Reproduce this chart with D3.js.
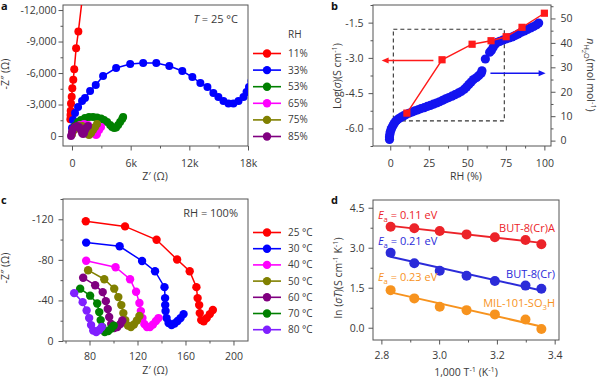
<!DOCTYPE html>
<html>
<head>
<meta charset="utf-8">
<script src="https://cdn.jsdelivr.net/npm/d3@7"></script>
<style>
  body { margin: 0; background: #fff; }
  svg { display: block; font-family: "Open Sans", sans-serif; }
</style>
</head>
<body>
<div id="chart"></div>
<script>
"use strict";

/* === Panel a: Nyquist plots at 25 C for each RH (Z', Z'') === */
let rhLabels = ["11%", "33%", "53%", "65%", "75%", "85%"];
let rhColors = ["#ff0000", "#0000ff", "#008000", "#ff00ff", "#808000", "#800080"];
let nyqRH = [
  [[-170,-1600],[-150,-2000],[-130,-2400],[-100,-3100],[-30,-3750],[30,-4550],[130,-5350],[230,-6350],[420,-8350],[650,-9950],[1100,-13500]],
  [[0,-760],[100,-1520],[310,-2190],[620,-2760],[1030,-3330],[1330,-3620],[1850,-4290],[2430,-4860],[3180,-5710],[4510,-6480],[5950,-6860],[7280,-6950],[8620,-6950],[9950,-6670],[11280,-6190],[12310,-5620],[13130,-5050],[13850,-4670],[14460,-4100],[14970,-3710],[15490,-3330],[16000,-3100],[16510,-3100],[17030,-3330],[17540,-3710],[17850,-4190],[18100,-4670],[18360,-5240]],
  [[0,-190],[100,-570],[310,-950],[620,-1330],[920,-1520],[1330,-1710],[1740,-1810],[2150,-1810],[2560,-1760],[2970,-1670],[3280,-1520],[3590,-1330],[3900,-1050],[4100,-860],[4310,-760],[4510,-810],[4720,-1050],[4920,-1330],[5130,-1620],[5230,-1810]],
  [[0,-190],[200,-570],[510,-860],[820,-1050],[1230,-1140],[1640,-1050],[1950,-760],[2150,-480],[2360,-190],[2460,-100],[2560,-190],[2770,-570],[2970,-860]],
  [[0,-190],[200,-570],[410,-760],[720,-950],[1030,-950],[1330,-760],[1540,-480],[1640,-190],[1740,-100],[1950,-290],[2150,-570],[2360,-860],[2560,-1140]],
  [[-100,0],[0,-380],[100,-670],[310,-860],[510,-950],[720,-860],[920,-570],[1030,-290],[1130,-190],[1230,-290],[1330,-570],[1440,-760],[1640,-950]]
];

/* === Panel b: conductivity and water uptake vs RH === */
let rhCond = [10.8, 33.6, 53.1, 65.4, 75.2, 85.5, 100];
let logSigma = [-5.35, -3.08, -2.42, -2.27, -2.10, -1.70, -1.10];
let rhUptake = [-0.5, -0.5, -0.3, 0, 0.5, 1, 1.8, 2.5, 3.3, 4.3, 5.5, 7, 8.5, 10, 12, 14, 16, 18, 20, 22, 24, 26, 28, 30, 32, 34, 36, 38, 40, 42, 44, 46, 48, 49.5, 51, 52.5, 54, 56, 57.5, 59, 59.5, 61.7, 64.5, 65.6, 66.7, 68, 69.3, 71, 73, 75, 77, 79, 81, 83, 85, 87, 89, 91, 93, 95, 96.3];
let nWater = [0.5, 1.5, 2.5, 3.5, 4.5, 5.3, 6.2, 7, 7.7, 8.4, 9, 9.6, 10.1, 10.6, 11.2, 11.7, 12.2, 12.6, 13.1, 13.5, 14, 14.4, 14.9, 15.4, 15.9, 16.5, 17.1, 17.6, 18.2, 18.8, 19.4, 20.1, 21, 21.9, 23, 24, 25, 25.8, 26.7, 27.6, 28.6, 33.4, 36.2, 36.9, 38.1, 39.3, 40.2, 40.6, 41.1, 41.6, 42, 42.4, 43, 43.6, 44.3, 44.9, 45.5, 46.1, 46.7, 47.4, 48.1];

/* === Panel c: Nyquist plots at RH = 100% for each temperature === */
let tempLabels = ["25 °C", "30 °C", "40 °C", "50 °C", "60 °C", "70 °C", "80 °C"];
let tempColors = ["#ff0000", "#0000ff", "#ff00ff", "#808000", "#800080", "#008000", "#8020ff"];
let nyqTemp = [
  [[76.9,-118],[109.6,-113],[135.9,-99.8],[153.0,-80.3],[163.5,-68.8],[169.1,-53.1],[170.1,-42.3],[171.4,-35.4],[171.9,-27.5],[173.1,-20.6],[175.2,-19.5],[177.7,-22.6],[180.3,-26.5],[182.8,-30.5]],
  [[77.2,-97],[105.1,-93.4],[123.8,-78.9],[134.6,-68.8],[142.5,-53.1],[143.0,-42.3],[143.1,-35.4],[143.4,-29.5],[144.2,-22.6],[145.9,-17.7],[148.4,-15.7],[150.9,-17.2],[153.4,-19.7],[155.9,-22.6],[158.4,-26.5]],
  [[77.2,-79.1],[101.7,-72.7],[113.8,-60.9],[118.8,-48.5],[121.6,-37.4],[122.8,-29.5],[124.1,-22.6],[125.7,-16.7],[127.9,-13.8],[130.4,-13.8],[132.9,-16.2],[135.4,-19.7],[137.5,-22.6]],
  [[78.8,-69.8],[92.3,-60.9],[100.6,-51.6],[104.0,-43.3],[106.5,-35.4],[108.2,-27.5],[109.8,-20.6],[112.0,-15.2],[114.5,-13.8],[117.0,-16.2],[119.5,-20.2],[121.6,-24.6]],
  [[74.7,-62.4],[84.7,-55],[91.0,-48.2],[93.6,-39.3],[95.2,-31.5],[96.4,-23.6],[98.1,-16.7],[100.6,-12.8],[103.2,-13.8],[105.7,-16.7],[107.3,-20.2]],
  [[72.2,-51.6],[80.5,-44.7],[86.4,-36.9],[88.1,-28.5],[89.3,-20.6],[90.6,-13.8],[92.7,-8.8],[95.6,-9.8],[98.1,-12.3],[100.2,-15.2]],
  [[67.2,-47.2],[74.3,-38.3],[77.6,-30],[79.7,-22.6],[81.3,-15.7],[83.1,-10.3],[85.6,-8.8],[88.1,-10.8],[90.2,-13.8]]
];

/* === Panel d: Arrhenius plots === */
let invT = [2.832, 2.914, 3.002, 3.095, 3.193, 3.299, 3.354];
let materials = ["BUT-8(Cr)A", "BUT-8(Cr)", "MIL-101-SO3H"];
let activation = ["0.11", "0.21", "0.23"];
let matColors = ["#ec2329", "#2b2bd9", "#f7931e"];
let lnSigmaT = [
  [3.79, 3.73, 3.63, 3.50, 3.39, 3.29, 3.13],
  [2.81, 2.42, 2.14, 1.95, 1.75, 1.58, 1.46],
  [1.41, 1.10, 0.79, 0.66, 0.50, 0.31, -0.05]
];

/* === SVG === */
let ink = "#3a3a3a";
let frameColor = "#555";

let svg = d3.select("#chart").append("svg")
  .attr("width", 600)
  .attr("height", 377);

svg.append("rect").attr("width", 600).attr("height", 377).attr("fill", "#fff");

let defs = svg.append("defs");

function frame(box, id) {
  defs.append("clipPath").attr("id", id)
    .append("rect")
    .attr("x", box.x0).attr("y", box.y0)
    .attr("width", box.x1 - box.x0).attr("height", box.y1 - box.y0);
  svg.append("rect")
    .attr("x", box.x0).attr("y", box.y0)
    .attr("width", box.x1 - box.x0).attr("height", box.y1 - box.y0)
    .attr("fill", "none").attr("stroke", frameColor).attr("stroke-width", 1);
}

// major + minor ticks, no domain line (frame drawn separately)
function addAxis(make, scale, major, minor, fmt, tr, pad) {
  let a1 = svg.append("g").attr("transform", tr)
    .call(make(scale).tickValues(minor).tickSize(2.5).tickFormat(""));
  let a2 = svg.append("g").attr("transform", tr)
    .call(make(scale).tickValues(major).tickSize(4.5).tickPadding(pad).tickFormat(fmt));
  [a1, a2].forEach(a => {
    a.select(".domain").remove();
    a.attr("font-family", "'Open Sans', sans-serif").attr("font-size", 10.5);
    a.selectAll("line").attr("stroke", frameColor);
    a.selectAll("text").attr("fill", ink);
  });
}

// text with italic / sub / sup runs
function rich(t, parts, fs) {
  let shift = 0;
  parts.forEach(p => {
    let s = typeof p === "string" ? p : p[0];
    let k = typeof p === "string" ? "" : p[1];
    let target = 0, size = fs;
    if (k.includes("sub2")) { target = 0.45 * fs; size = fs * 0.55; }
    else if (k.includes("sub")) { target = 0.28 * fs; size = fs * 0.7; }
    else if (k.includes("sup")) { target = -0.4 * fs; size = fs * 0.7; }
    let ts = t.append("tspan").text(s).attr("dy", target - shift).attr("font-size", size);
    if (k.includes("it")) ts.attr("font-style", "italic");
    shift = target;
  });
  return t;
}

function label(x, y, size, anchor, rot) {
  return svg.append("text")
    .attr("transform", `translate(${x},${y})` + (rot ? ` rotate(${rot})` : ""))
    .attr("text-anchor", anchor)
    .attr("font-size", size)
    .attr("fill", ink);
}

function series(x, y, pts, color, r, clip, lw) {
  let g = svg.append("g").attr("clip-path", `url(#${clip})`);
  g.append("path").datum(pts)
    .attr("d", d3.line().x(d => x(d[0])).y(d => y(d[1])))
    .attr("fill", "none").attr("stroke", color).attr("stroke-width", lw);
  g.selectAll("circle").data(pts).join("circle")
    .attr("cx", d => x(d[0])).attr("cy", d => y(d[1]))
    .attr("r", r).attr("fill", color);
}

function legend(labels, colors, x, y0, step) {
  labels.forEach((lab, i) => {
    let y = y0 + i * step;
    svg.append("line").attr("x1", x).attr("x2", x + 28).attr("y1", y).attr("y2", y)
      .attr("stroke", colors[i]).attr("stroke-width", 1.6);
    svg.append("circle").attr("cx", x + 14).attr("cy", y).attr("r", 4.2).attr("fill", colors[i]);
    svg.append("text").attr("x", x + 35).attr("y", y).attr("dy", "0.35em")
      .attr("font-size", 10).attr("fill", ink).text(lab);
  });
}

let dashFmt = d => (d < 0 ? "-" : "") + Math.abs(d);

/* ================= Panel a ================= */
let boxA = { x0: 63, x1: 248, y0: 5, y1: 146 };
frame(boxA, "clipA");
let xA = d3.scaleLinear().domain([-920, 18000]).range([boxA.x0, boxA.x1]);
let yA = d3.scaleLinear().domain([950, -12480]).range([boxA.y1, boxA.y0]);

addAxis(d3.axisBottom, xA, [0, 6000, 12000, 18000], [3000, 9000, 15000],
  d => d === 0 ? "0" : d / 1000 + "k", `translate(0,${boxA.y1})`, 9);
addAxis(d3.axisLeft, yA, [0, -3000, -6000, -9000, -12000], [-1500, -4500, -7500, -10500],
  d => d === 0 ? "0" : "-" + d3.format(",")(-d), `translate(${boxA.x0},0)`, 2);

nyqRH.forEach((pts, i) => series(xA, yA, pts, rhColors[i], 4, "clipA", 1.5));

rich(label(238, 23, 11, "end"), [["T", "it"], " = 25 °C"], 11);
label(288, 38, 10, "start").text("RH");
legend(rhLabels, rhColors, 253, 53.5, 16.6);
rich(label(155, 180, 10.5, "middle"), ["Z\u2032 (Ω)"], 10.5);
rich(label(9, 74, 10.5, "middle", -90), ["-Z\u2033 (Ω)"], 10.5);
label(1, 10, 11, "start").attr("font-weight", "bold").attr("fill", "#111").text("a");

/* ================= Panel b ================= */
let boxB = { x0: 373, x1: 551, y0: 5, y1: 146 };
frame(boxB, "clipB");
let xB = d3.scaleLinear().domain([-11.2, 104.3]).range([boxB.x0, boxB.x1]);
let yB = d3.scaleLinear().domain([-6.75, -0.75]).range([boxB.y1, boxB.y0]);
let yB2 = d3.scaleLinear().domain([-2.2, 55.5]).range([boxB.y1, boxB.y0]);

addAxis(d3.axisBottom, xB, [0, 25, 50, 75, 100], [12.5, 37.5, 62.5, 87.5],
  d => d, `translate(0,${boxB.y1})`, 9);
addAxis(d3.axisLeft, yB, [-6, -4.5, -3, -1.5], [-6.75, -5.25, -3.75, -2.25, -0.75],
  d => "-" + Math.abs(d).toFixed(1), `translate(${boxB.x0},0)`, 5);
addAxis(d3.axisRight, yB2, [0, 10, 20, 30, 40, 50], [5, 15, 25, 35, 45, 55],
  d => d, `translate(${boxB.x1},0)`, 5);

// dashed region box
svg.append("rect")
  .attr("x", xB(2)).attr("y", yB(-1.78))
  .attr("width", xB(74) - xB(2)).attr("height", yB(-5.68) - yB(-1.78))
  .attr("fill", "none").attr("stroke", "#333").attr("stroke-width", 1.1)
  .attr("stroke-dasharray", "4,3");

let gUp = svg.append("g").attr("clip-path", "url(#clipB)");
gUp.selectAll("circle").data(rhUptake).join("circle")
  .attr("cx", d => xB(d)).attr("cy", (d, i) => yB2(nWater[i]))
  .attr("r", 4.6).attr("fill", "#1414f0");

svg.append("path").datum(rhCond)
  .attr("d", d3.line().x(d => xB(d)).y((d, i) => yB(logSigma[i])))
  .attr("fill", "none").attr("stroke", "#ff1a1a").attr("stroke-width", 1.4);
svg.selectAll("rect.sq").data(rhCond).join("rect").attr("class", "sq")
  .attr("x", d => xB(d) - 3.6).attr("y", (d, i) => yB(logSigma[i]) - 3.6)
  .attr("width", 7.2).attr("height", 7.2).attr("fill", "#ff1a1a");

// arrows pointing to their axes
function arrow(x1, x2, y, color) {
  let dir = Math.sign(x2 - x1);
  svg.append("line").attr("x1", x1).attr("x2", x2 - dir * 5).attr("y1", y).attr("y2", y)
    .attr("stroke", color).attr("stroke-width", 1.4);
  svg.append("path")
    .attr("d", `M${x2},${y} L${x2 - dir * 7},${y - 3} L${x2 - dir * 7},${y + 3} Z`)
    .attr("fill", color);
}
arrow(xB(28), xB(-5.6), yB(-3.11), "#ff1a1a");
arrow(xB(65), xB(100.8), yB2(27.6), "#1414f0");

label(466, 180, 10.5, "middle").text("RH (%)");
rich(label(341, 76, 10.5, "middle", -90), ["Log(", ["σ", "it"], ")(S cm", ["-1", "sup"], ")"], 10.5);
rich(label(587, 75, 10.5, "middle", 90), [["n", "it"], ["H", "sub"], ["2", "sub2"], ["O", "sub"], "(mol mol", ["-1", "sup"], ")"], 10.5);
label(331, 10, 11, "start").attr("font-weight", "bold").attr("fill", "#111").text("b");

/* ================= Panel c ================= */
let boxC = { x0: 63, x1: 248, y0: 199, y1: 341 };
frame(boxC, "clipC");
let xC = d3.scaleLinear().domain([57.9, 212.1]).range([boxC.x0, boxC.x1]);
let yC = d3.scaleLinear().domain([0, -140]).range([boxC.y1, boxC.y0]);

addAxis(d3.axisBottom, xC, [80, 120, 160, 200], [60, 100, 140, 180],
  d => d, `translate(0,${boxC.y1})`, 7);
addAxis(d3.axisLeft, yC, [0, -40, -80, -120], [-20, -60, -100, -140],
  dashFmt, `translate(${boxC.x0},0)`, 5);

nyqTemp.forEach((pts, i) => series(xC, yC, pts, tempColors[i], 4.2, "clipC", 1.5));

label(238, 216.5, 11, "end").text("RH = 100%");
legend(tempLabels, tempColors, 253, 232.5, 16.2);
label(155, 374, 10.5, "middle").text("Z\u2032 (Ω)");
label(9, 268, 10.5, "middle", -90).text("-Z\u2033 (Ω)");
label(1, 204, 11, "start").attr("font-weight", "bold").attr("fill", "#111").text("c");

/* ================= Panel d ================= */
let boxD = { x0: 373, x1: 559, y0: 200, y1: 340 };
frame(boxD, "clipD");
let xD = d3.scaleLinear().domain([2.771, 3.415]).range([boxD.x0, boxD.x1]);
let yD = d3.scaleLinear().domain([-0.46, 4.79]).range([boxD.y1, boxD.y0]);

addAxis(d3.axisBottom, xD, [2.8, 3.0, 3.2, 3.4], [2.9, 3.1, 3.3],
  d => d.toFixed(1), `translate(0,${boxD.y1})`, 7);
addAxis(d3.axisLeft, yD, [0, 1.5, 3, 4.5], [0.75, 2.25, 3.75],
  d => d.toFixed(1), `translate(${boxD.x0},0)`, 4);

// least-squares line through each material's points
function fitLine(xs, ys) {
  let mx = d3.mean(xs), my = d3.mean(ys);
  let b = d3.sum(xs, (v, i) => (v - mx) * (ys[i] - my)) / d3.sum(xs, v => (v - mx) * (v - mx));
  return [xs[0], xs[xs.length - 1]].map(v => [v, my + b * (v - mx)]);
}

lnSigmaT.forEach((vals, m) => {
  let line = fitLine(invT, vals);
  svg.append("line")
    .attr("x1", xD(line[0][0])).attr("y1", yD(line[0][1]))
    .attr("x2", xD(line[1][0])).attr("y2", yD(line[1][1]))
    .attr("stroke", matColors[m]).attr("stroke-width", 2);
  svg.append("g").selectAll("circle").data(vals).join("circle")
    .attr("cx", (d, i) => xD(invT[i])).attr("cy", d => yD(d))
    .attr("r", 5).attr("fill", matColors[m]);
});

let eaY = [4.08, 3.10, 1.75];
let nameY = [3.6, 1.85, 0.79];
materials.forEach((name, m) => {
  rich(label(xD(2.788), yD(eaY[m]), 11, "start").attr("fill", matColors[m]),
    [["E", "it"], ["a", "sub"], " = " + activation[m] + " eV"], 11);
  let t = label(555, yD(nameY[m]), 11, "end").attr("fill", matColors[m]);
  if (name === "MIL-101-SO3H") rich(t, ["MIL-101-SO", ["3", "sub"], "H"], 11);
  else t.text(name);
});

rich(label(466, 376, 10.5, "middle"), ["1,000 T", ["-1", "sup"], " (K", ["-1", "sup"], ")"], 10.5);
rich(label(342, 278, 10.5, "middle", -90), ["ln (", ["σT", "it"], ")(S cm", ["-1", "sup"], " K", ["-1", "sup"], ")"], 10.5);
label(331, 204, 11, "start").attr("font-weight", "bold").attr("fill", "#111").text("d");
</script>
</body>
</html>
